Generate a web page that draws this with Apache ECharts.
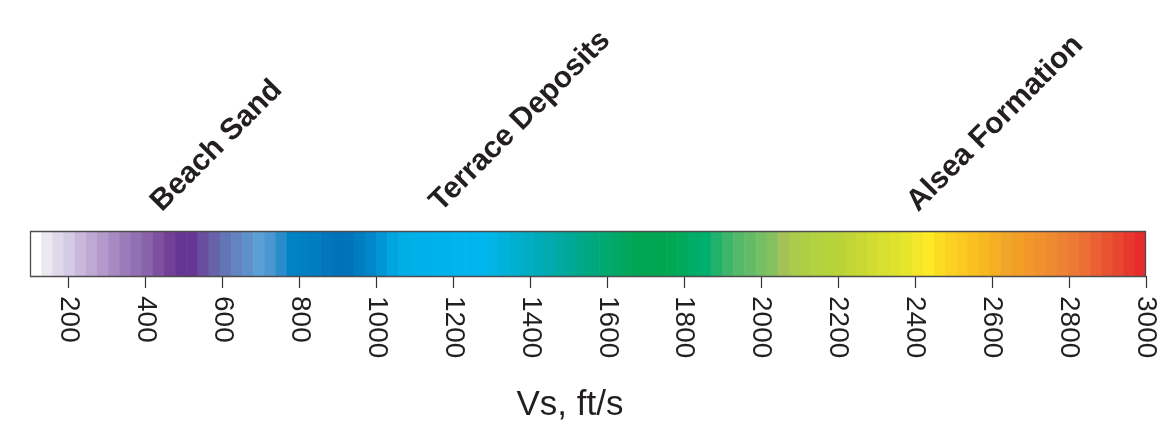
<!DOCTYPE html>
<html>
<head>
<meta charset="utf-8">
<title>Vs colour scale</title>
<script src="https://cdn.jsdelivr.net/npm/echarts@6/dist/echarts.min.js"></script>
<style>
  html, body { margin: 0; padding: 0; background: #ffffff; }
  #chart { width: 1176px; height: 424px; }
</style>
</head>
<body>
<div id="chart"></div>
<script>
// Shear-wave velocity range covered by the colour scale (ft/s)
const vsMin = 100;
const vsMax = 3000;

// Colour ramp, one entry per equal-width velocity bin from vsMin to vsMax
const rampColors = [
  '#ffffff', '#ebe8f0', '#e0d9ea', '#d6cbe4', '#c9b8dc', '#bfa9d4', '#b39acb', '#a88ac3', '#9c7bb9', '#9270b2',
  '#8a62aa', '#7e51a0', '#733f97', '#663592', '#673593', '#694ea0', '#6862a9', '#6275b6', '#6483c1', '#6090cb',
  '#5aa0d6', '#4a97d1', '#2b8ccb', '#0083c6', '#0080c3', '#007dc1', '#0077bd', '#0071bb', '#0073bb', '#007dc2',
  '#0086c9', '#0096d6', '#00a4e0', '#00aee6', '#00b0e8', '#00b1e9', '#00b2ea', '#00b3eb', '#00b4ec', '#00b5ed',
  '#00b6ee', '#00b4e4', '#00b1d9', '#00afcf', '#00adc4', '#00abb9', '#00aaae', '#00a9a2', '#00a996', '#00a88a',
  '#00a87e', '#00a872', '#00a767', '#00a75c', '#00a653', '#00a651', '#00a651', '#00a853', '#00aa5c', '#00ae68',
  '#00b06c', '#20b16c', '#3eb56b', '#55b96a', '#63bb68', '#75bf64', '#85c25f', '#a4c257', '#aacc4c', '#aecf45',
  '#b3d23f', '#b5d33d', '#b8d43a', '#c1d636', '#c9d833', '#d1dc30', '#d8df2e', '#dfe22c', '#e6e42b', '#f4e62a',
  '#fde925', '#fcdc21', '#fcd121', '#fbc922', '#f9c022', '#f8b822', '#f6ae24', '#f1a62a', '#f39f26', '#f2982a',
  '#f0912e', '#ef8a31', '#ed8233', '#ec7a33', '#ec6e33', '#ea6032', '#e9532f', '#e8462e', '#e8372d', '#e82a2c'
];

// Labelled axis positions (ft/s)
const tickValues = [200, 400, 600, 800, 1000, 1200, 1400, 1600, 1800, 2000, 2200, 2400, 2600, 2800, 3000];

// Geologic units and the velocity at which each name is anchored
const formationNames = ['Beach Sand', 'Terrace Deposits', 'Alsea Formation'];
const formationVs = [455, 1180, 2420];

const axisTitle = 'Vs, ft/s';

const binWidth = (vsMax - vsMin) / rampColors.length;
const cells = rampColors.map((c, i) => [vsMin + i * binWidth, vsMin + (i + 1) * binWidth, i]);

const chart = echarts.init(document.getElementById('chart'), null, { renderer: 'canvas' });

const option = {
  backgroundColor: '#ffffff',
  animation: false,
  grid: [
    { left: 30, right: 30, top: 231, height: 48 },
    { left: 30, right: 30, top: 0, height: 231 }
  ],
  xAxis: [
    {
      type: 'value', gridIndex: 0, min: vsMin, max: vsMax,
      splitLine: { show: false },
      axisLine: { show: false },
      axisTick: { show: true, customValues: tickValues, length: 12, lineStyle: { color: '#333333', width: 1.2 } },
      axisLabel: {
        customValues: tickValues,
        formatter: v => String(v),
        rotate: -90, margin: 20,
        color: '#231f20',
        fontFamily: "'Liberation Sans Narrow', 'Liberation Sans', Arial, sans-serif",
        fontSize: 28
      },
      name: axisTitle,
      nameLocation: 'middle',
      nameGap: 112,
      nameTextStyle: {
        color: '#231f20',
        fontFamily: "'Liberation Sans', Arial, sans-serif",
        fontSize: 35,
        padding: [0, 36, 0, 0]
      }
    },
    { type: 'value', gridIndex: 1, min: vsMin, max: vsMax, show: false }
  ],
  yAxis: [
    { type: 'value', gridIndex: 0, min: 0, max: 1, show: false },
    { type: 'value', gridIndex: 1, min: 0, max: 10, show: false }
  ],
  series: [
    {
      type: 'custom',
      xAxisIndex: 0, yAxisIndex: 0,
      data: cells,
      renderItem: function (params, api) {
        const p0 = api.coord([api.value(0), 1]);
        const p1 = api.coord([api.value(1), 0]);
        const last = api.value(2) === rampColors.length - 1;
        return {
          type: 'rect',
          shape: { x: p0[0], y: p0[1], width: p1[0] - p0[0] + (last ? 0 : 0.6), height: p1[1] - p0[1] },
          style: { fill: rampColors[api.value(2)] }
        };
      }
    },
    {
      // frame around the colour bar
      type: 'custom',
      xAxisIndex: 0, yAxisIndex: 0,
      z: 5,
      data: [[vsMin, vsMax]],
      renderItem: function (params, api) {
        const p0 = api.coord([api.value(0), 1]);
        const p1 = api.coord([api.value(1), 0]);
        return {
          type: 'rect',
          shape: { x: p0[0] + 0.5, y: p0[1] + 0.5, width: p1[0] - p0[0] - 1, height: p1[1] - p0[1] },
          style: { fill: null, stroke: '#4d4d4d', lineWidth: 1.3 }
        };
      }
    },
    {
      type: 'scatter',
      xAxisIndex: 1, yAxisIndex: 1,
      symbolSize: 0,
      silent: true,
      itemStyle: { opacity: 1 },
      data: formationVs.map((v, i) => [v, 0.6, formationNames[i]]),
      label: {
        show: true,
        position: 'inside',
        formatter: p => p.data[2],
        rotate: 45,
        align: 'left',
        verticalAlign: 'bottom',
        color: '#231f20',
        opacity: 1,
        textBorderWidth: 0,
        fontFamily: "'Liberation Sans', Arial, sans-serif",
        fontWeight: 'bold',
        fontSize: 30
      }
    }
  ]
};

chart.setOption(option);
</script>
</body>
</html>
